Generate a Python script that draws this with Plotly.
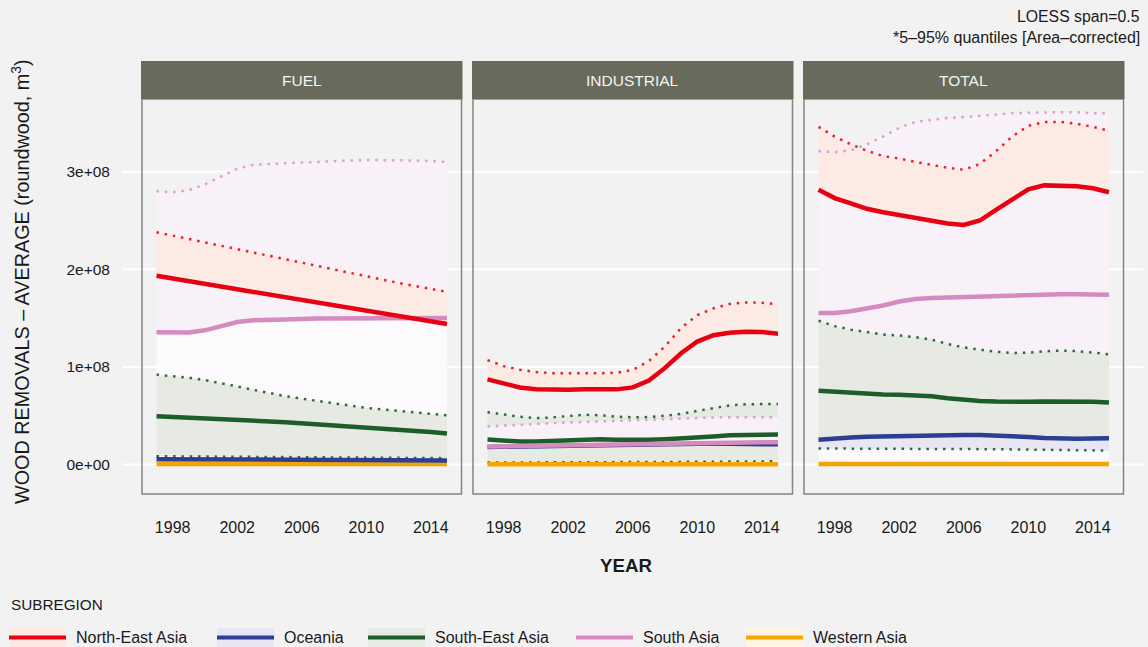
import plotly.graph_objects as go

# ---------------------------------------------------------------------------
# Data: LOESS-smoothed average wood removals (roundwood, m3), in units of 1e8
# ---------------------------------------------------------------------------
SCALE = 1e8
YEARS = list(range(1997, 2016))
TICK_YEARS = [1998, 2002, 2006, 2010, 2014]
Y_TICK_VALUES = [0, 1e8, 2e8, 3e8]
Y_TICK_TEXT = ["0e+00", "1e+08", "2e+08", "3e+08"]
PANELS = ["FUEL", "INDUSTRIAL", "TOTAL"]
SUBREGIONS = ["North-East Asia", "Oceania", "South-East Asia", "South Asia", "Western Asia"]

# ---- FUEL ----
fuel_ne_mean = [1.935, 1.905, 1.878, 1.851, 1.823, 1.796, 1.768, 1.740, 1.712, 1.684,
                1.657, 1.630, 1.603, 1.576, 1.549, 1.522, 1.495, 1.467, 1.440]
fuel_ne_hi = [2.380, 2.345, 2.310, 2.275, 2.240, 2.205, 2.170, 2.135, 2.100, 2.065,
              2.030, 1.995, 1.960, 1.925, 1.890, 1.860, 1.830, 1.800, 1.770]
fuel_sa_mean = [1.355, 1.350, 1.352, 1.375, 1.420, 1.460, 1.478, 1.486, 1.490, 1.492,
                1.495, 1.497, 1.499, 1.500, 1.501, 1.502, 1.502, 1.502, 1.502]
fuel_sa_hi = [2.800, 2.790, 2.810, 2.870, 2.950, 3.030, 3.070, 3.080, 3.090, 3.095,
              3.100, 3.110, 3.115, 3.120, 3.120, 3.120, 3.115, 3.110, 3.100]
fuel_sea_mean = [0.494, 0.488, 0.482, 0.475, 0.468, 0.460, 0.451, 0.442, 0.432, 0.422,
                 0.412, 0.402, 0.392, 0.381, 0.370, 0.358, 0.346, 0.333, 0.318]
fuel_sea_hi = [0.921, 0.905, 0.890, 0.865, 0.835, 0.800, 0.765, 0.730, 0.700, 0.675,
               0.650, 0.625, 0.600, 0.580, 0.565, 0.550, 0.535, 0.520, 0.505]
fuel_sea_lo = [0.085, 0.084, 0.083, 0.082, 0.081, 0.080, 0.079, 0.078, 0.077, 0.076,
               0.075, 0.074, 0.073, 0.072, 0.071, 0.070, 0.068, 0.067, 0.065]
fuel_oc_mean = [0.055, 0.054, 0.053, 0.052, 0.051, 0.051, 0.050, 0.049, 0.048, 0.047,
                0.047, 0.046, 0.045, 0.045, 0.044, 0.043, 0.043, 0.042, 0.042]
fuel_wa_mean = [0.006] * 19
fuel_wa_hi = [1.335, 1.330, 1.332, 1.355, 1.400, 1.440, 1.458, 1.466, 1.470, 1.472,
              1.475, 1.477, 1.479, 1.480, 1.481, 1.482, 1.482, 1.482, 1.482]

# ---- INDUSTRIAL ----
ind_ne_mean = [0.873, 0.830, 0.790, 0.772, 0.765, 0.767, 0.772, 0.772, 0.770, 0.790,
               0.860, 0.990, 1.140, 1.260, 1.325, 1.350, 1.360, 1.358, 1.340]
ind_ne_hi = [1.070, 1.008, 0.972, 0.947, 0.936, 0.935, 0.937, 0.936, 0.940, 0.970,
             1.060, 1.210, 1.400, 1.530, 1.600, 1.645, 1.660, 1.658, 1.640]
ind_sea_mean = [0.256, 0.243, 0.236, 0.237, 0.242, 0.252, 0.262, 0.260, 0.255, 0.252,
                0.254, 0.260, 0.267, 0.276, 0.288, 0.300, 0.305, 0.307, 0.307]
ind_sea_hi = [0.536, 0.512, 0.490, 0.476, 0.482, 0.497, 0.510, 0.505, 0.490, 0.484,
              0.486, 0.500, 0.520, 0.550, 0.580, 0.605, 0.618, 0.621, 0.621]
ind_sea_lo = [0.020, 0.020, 0.021, 0.021, 0.022, 0.022, 0.023, 0.023, 0.024, 0.024,
              0.025, 0.026, 0.027, 0.028, 0.029, 0.030, 0.031, 0.032, 0.033]
ind_sa_mean = [0.185, 0.188, 0.191, 0.194, 0.197, 0.200, 0.203, 0.206, 0.209, 0.212,
               0.215, 0.218, 0.221, 0.224, 0.226, 0.227, 0.228, 0.228, 0.228]
ind_sa_hi = [0.390, 0.400, 0.410, 0.418, 0.424, 0.430, 0.436, 0.442, 0.448, 0.455,
             0.462, 0.469, 0.475, 0.479, 0.482, 0.484, 0.485, 0.485, 0.485]
ind_oc_mean = [0.180, 0.183, 0.186, 0.190, 0.194, 0.198, 0.202, 0.206, 0.209, 0.212,
               0.214, 0.216, 0.217, 0.217, 0.216, 0.213, 0.210, 0.208, 0.207]
ind_wa_mean = [0.004] * 19
ind_wa_hi = ind_sea_lo

# ---- TOTAL ----
tot_ne_mean = [2.815, 2.730, 2.675, 2.620, 2.585, 2.555, 2.530, 2.500, 2.470, 2.455,
               2.500, 2.610, 2.720, 2.820, 2.860, 2.860, 2.850, 2.830, 2.790]
tot_ne_hi = [3.460, 3.360, 3.280, 3.215, 3.160, 3.135, 3.100, 3.070, 3.040, 3.020,
             3.080, 3.210, 3.360, 3.470, 3.510, 3.510, 3.490, 3.460, 3.420]
tot_sa_mean = [1.553, 1.553, 1.570, 1.595, 1.630, 1.670, 1.695, 1.705, 1.710, 1.720,
               1.727, 1.733, 1.738, 1.743, 1.745, 1.745, 1.745, 1.743, 1.740]
tot_sa_hi = [3.210, 3.200, 3.220, 3.280, 3.360, 3.450, 3.510, 3.530, 3.550, 3.560,
             3.570, 3.585, 3.600, 3.605, 3.610, 3.610, 3.610, 3.600, 3.600]
tot_sea_mean = [0.757, 0.745, 0.735, 0.726, 0.718, 0.715, 0.712, 0.700, 0.678, 0.660,
                0.652, 0.646, 0.642, 0.642, 0.646, 0.648, 0.646, 0.642, 0.635]
tot_sea_hi = [1.474, 1.418, 1.382, 1.356, 1.332, 1.322, 1.305, 1.280, 1.235, 1.200,
              1.175, 1.155, 1.143, 1.145, 1.160, 1.167, 1.162, 1.148, 1.130]
tot_sea_lo = [0.164, 0.164, 0.163, 0.163, 0.162, 0.162, 0.161, 0.161, 0.160, 0.160,
              0.159, 0.157, 0.155, 0.153, 0.151, 0.149, 0.147, 0.145, 0.143]
tot_oc_mean = [0.255, 0.270, 0.278, 0.284, 0.289, 0.292, 0.295, 0.298, 0.300, 0.303,
               0.302, 0.298, 0.290, 0.282, 0.273, 0.266, 0.264, 0.266, 0.268]
tot_oc_lo = tot_sea_lo
tot_sa_lo = tot_sea_hi
tot_wa_mean = [0.006] * 19
tot_wa_hi = tot_sea_lo

# ---------------------------------------------------------------------------
# Styling
# ---------------------------------------------------------------------------
W, H = 1148, 647
BG = "#f2f2f2"
FONT = "Liberation Sans, Arial, Helvetica, sans-serif"
TEXT = "#1a1a1a"
LINE = {"North-East Asia": "#e60012", "Oceania": "#2e3e94", "South-East Asia": "#1c5d2a",
        "South Asia": "#d68bc0", "Western Asia": "#f6a500"}
DOT = {"North-East Asia": "#e8202c", "South-East Asia": "#2f6b3a", "South Asia": "#dc9fcf"}
BAND = {"North-East Asia": "#fcebe4", "Oceania": "#e7e7f4", "South-East Asia": "#e6eae2",
        "South Asia": "#f8f1f8", "Western Asia": "#fcfafc"}
KEY_BG = {"North-East Asia": "#fde9e2", "Oceania": "#e6e6f4", "South-East Asia": "#e6ebe3",
          "South Asia": "#f8eef8", "Western Asia": "#fff4e4"}

# panel geometry in pixels
PANEL_X = [(142, 461.5), (473, 792.5), (804, 1123.5)]
PANEL_TOP, PANEL_BOTTOM = 99, 494
STRIP_TOP = 61
Y_RANGE = [-0.302e8, 3.745e8]
X_RANGE = [1996.1, 2015.9]


def px(x):
    return x / W


def py(y):
    return 1 - y / H


def s(vals):
    return [v * SCALE for v in vals]


panel_data = [
    {   # FUEL
        "bands": [("Western Asia", [0] * 19, fuel_wa_hi),
                  ("South-East Asia", fuel_sea_lo, fuel_sea_hi),
                  ("South Asia", fuel_sa_mean, fuel_sa_hi),
                  ("North-East Asia", fuel_ne_mean, fuel_ne_hi)],
        "dots": [("South-East Asia", fuel_sea_lo), ("South-East Asia", fuel_sea_hi),
                 ("South Asia", fuel_sa_hi), ("North-East Asia", fuel_ne_hi)],
        "means": [("Western Asia", fuel_wa_mean), ("Oceania", fuel_oc_mean),
                  ("South-East Asia", fuel_sea_mean), ("South Asia", fuel_sa_mean),
                  ("North-East Asia", fuel_ne_mean)],
    },
    {   # INDUSTRIAL
        "bands": [("Western Asia", [0] * 19, ind_wa_hi),
                  ("South-East Asia", ind_sea_lo, ind_sea_hi),
                  ("South Asia", ind_sa_mean, ind_sa_hi),
                  ("North-East Asia", ind_ne_mean, ind_ne_hi)],
        "dots": [("South-East Asia", ind_sea_lo), ("South-East Asia", ind_sea_hi),
                 ("South Asia", ind_sa_hi), ("North-East Asia", ind_ne_hi)],
        "means": [("Western Asia", ind_wa_mean), ("Oceania", ind_oc_mean),
                  ("South-East Asia", ind_sea_mean), ("South Asia", ind_sa_mean),
                  ("North-East Asia", ind_ne_mean)],
    },
    {   # TOTAL
        "bands": [("Western Asia", [0] * 19, tot_wa_hi),
                  ("South-East Asia", tot_sea_lo, tot_sea_hi),
                  ("Oceania", tot_oc_lo, tot_oc_mean),
                  ("South Asia", tot_sa_lo, tot_sa_hi),
                  ("North-East Asia", tot_ne_mean, tot_ne_hi)],
        "dots": [("South-East Asia", tot_sea_lo), ("South-East Asia", tot_sea_hi),
                 ("South Asia", tot_sa_hi), ("North-East Asia", tot_ne_hi)],
        "means": [("Western Asia", tot_wa_mean), ("Oceania", tot_oc_mean),
                  ("South-East Asia", tot_sea_mean), ("South Asia", tot_sa_mean),
                  ("North-East Asia", tot_ne_mean)],
    },
]

fig = go.Figure()

for i, pdata in enumerate(panel_data):
    xa = "x" if i == 0 else f"x{i + 1}"
    ya = "y" if i == 0 else f"y{i + 1}"
    for region, lo, hi in pdata["bands"]:
        fig.add_trace(go.Scatter(
            x=YEARS + YEARS[::-1], y=s(hi) + s(lo)[::-1],
            mode="lines", fill="toself", fillcolor=BAND[region],
            line=dict(width=0, color=BAND[region]),
            hoverinfo="skip", showlegend=False, xaxis=xa, yaxis=ya))
    for region, vals in pdata["dots"]:
        fig.add_trace(go.Scatter(
            x=YEARS, y=s(vals), mode="lines",
            line=dict(color=DOT[region], width=2.5, dash="2.5px,5.8px"),
            hoverinfo="skip", showlegend=False, xaxis=xa, yaxis=ya))
    for region, vals in pdata["means"]:
        fig.add_trace(go.Scatter(
            x=YEARS, y=s(vals), mode="lines", name=region,
            line=dict(color=LINE[region], width=4.5),
            showlegend=False, xaxis=xa, yaxis=ya))

layout = dict(
    width=W, height=H, autosize=False,
    margin=dict(l=0, r=0, t=0, b=0, pad=0),
    paper_bgcolor=BG, plot_bgcolor="rgba(0,0,0,0)",
    font=dict(family=FONT, color=TEXT, size=16),
    showlegend=False,
)

for i, (x0, x1) in enumerate(PANEL_X):
    key = "xaxis" if i == 0 else f"xaxis{i + 1}"
    ykey = "yaxis" if i == 0 else f"yaxis{i + 1}"
    layout[key] = dict(
        domain=[px(x0), px(x1)], range=X_RANGE, anchor="y" if i == 0 else f"y{i + 1}",
        tickvals=TICK_YEARS, ticktext=[str(t) for t in TICK_YEARS],
        showgrid=False, zeroline=False, showline=False, ticks="",
        ticklabelstandoff=22, tickfont=dict(size=16, color=TEXT))
    layout[ykey] = dict(
        domain=[py(PANEL_BOTTOM), py(PANEL_TOP)], range=Y_RANGE,
        anchor="x" if i == 0 else f"x{i + 1}",
        tickvals=Y_TICK_VALUES, ticktext=Y_TICK_TEXT,
        showticklabels=(i == 0), showgrid=False, zeroline=False, showline=False,
        ticks="", ticklabelstandoff=31, tickfont=dict(size=15.5, color=TEXT))
    if i > 0:
        layout[ykey]["matches"] = "y"

fig.update_layout(**layout)

shapes = []
# horizontal grid lines running behind all three panels
for v in Y_TICK_VALUES:
    shapes.append(dict(type="line", xref="paper", yref="y", x0=px(122), x1=px(1143),
                       y0=v, y1=v, line=dict(color="#ffffff", width=2), layer="below"))
annotations = []
for i, (x0, x1) in enumerate(PANEL_X):
    # panel frame
    shapes.append(dict(type="rect", xref="paper", yref="paper",
                       x0=px(x0), x1=px(x1), y0=py(PANEL_BOTTOM), y1=py(PANEL_TOP),
                       line=dict(color="#85857b", width=1.5), fillcolor="rgba(0,0,0,0)",
                       layer="above"))
    # facet strip
    shapes.append(dict(type="rect", xref="paper", yref="paper",
                       x0=px(x0 - 1), x1=px(x1 + 1), y0=py(PANEL_TOP), y1=py(STRIP_TOP),
                       line=dict(width=0), fillcolor="#686b5c", layer="above"))
    annotations.append(dict(text=PANELS[i], xref="paper", yref="paper",
                            x=px((x0 + x1) / 2), y=py((STRIP_TOP + PANEL_TOP) / 2),
                            xanchor="center", yanchor="middle", showarrow=False,
                            font=dict(size=15.5, color="#f4f4f0")))

# axis titles and notes
annotations += [
    dict(text="WOOD REMOVALS \u2013 AVERAGE (roundwood, m<sup>3</sup>)", xref="paper", yref="paper",
         x=px(20), y=py(282), textangle=-90, xanchor="center", yanchor="middle",
         showarrow=False, font=dict(size=19.8, color=TEXT)),
    dict(text="<b>YEAR</b>", xref="paper", yref="paper", x=px(626), y=py(565),
         xanchor="center", yanchor="middle", showarrow=False, font=dict(size=18.7, color=TEXT)),
    dict(text="LOESS span=0.5", xref="paper", yref="paper", x=px(1142), y=py(16),
         xanchor="right", yanchor="middle", showarrow=False, font=dict(size=15.8, color=TEXT)),
    dict(text="*5\u201395% quantiles [Area\u2013corrected]", xref="paper", yref="paper",
         x=px(1142), y=py(37), xanchor="right", yanchor="middle", showarrow=False,
         font=dict(size=16, color=TEXT)),
    dict(text="SUBREGION", xref="paper", yref="paper", x=px(9), y=py(604),
         xanchor="left", yanchor="middle", showarrow=False, font=dict(size=15.3, color=TEXT)),
]

# legend keys
KEY_X = {"North-East Asia": 9, "Oceania": 217, "South-East Asia": 368,
         "South Asia": 576, "Western Asia": 746}
KEY_W = 57
for region in SUBREGIONS:
    kx = KEY_X[region]
    shapes.append(dict(type="rect", xref="paper", yref="paper",
                       x0=px(kx), x1=px(kx + KEY_W), y0=py(648), y1=py(628),
                       line=dict(width=0), fillcolor=KEY_BG[region], layer="above"))
    shapes.append(dict(type="line", xref="paper", yref="paper",
                       x0=px(kx), x1=px(kx + KEY_W), y0=py(637.5), y1=py(637.5),
                       line=dict(color=LINE[region], width=4), layer="above"))
    annotations.append(dict(text=region, xref="paper", yref="paper",
                            x=px(kx + KEY_W + 8), y=py(637.5), xanchor="left",
                            yanchor="middle", showarrow=False,
                            font=dict(size=16, color=TEXT)))

fig.update_layout(shapes=shapes, annotations=annotations)
fig.write_html("out.html", config={"displayModeBar": False})
